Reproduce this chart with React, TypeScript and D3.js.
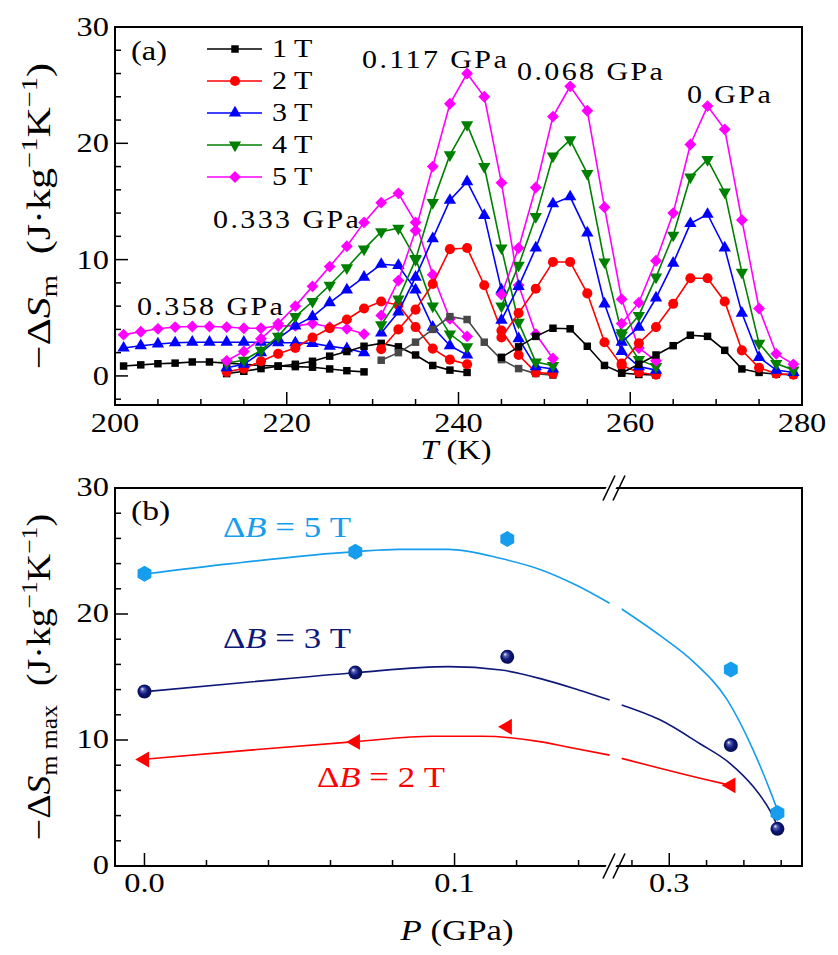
import React from 'react';
import * as d3 from 'd3';

// ---------- panel (a): -ΔSm vs T at five pressures ----------
const FIELDS = ['1 T', '2 T', '3 T', '4 T', '5 T'];
const FIELD_COLORS = ['#000000', '#ff0000', '#0000ff', '#008000', '#ff00ff'];

// 0.358 GPa (1, 3, 5 T)
const T_358 = [201, 203, 205, 207, 209, 211, 213, 215, 217, 219, 221, 223, 225, 227, 229];
const S_358_1 = [0.85, 0.95, 1.05, 1.1, 1.2, 1.2, 1.1, 1.0, 0.9, 0.85, 0.8, 0.75, 0.6, 0.45, 0.35];
const S_358_3 = [2.4, 2.6, 2.75, 2.85, 2.9, 2.9, 2.9, 2.9, 2.9, 2.85, 2.85, 2.8, 2.55, 2.35, 2.0];
const S_358_5 = [3.55, 3.8, 4.05, 4.2, 4.25, 4.25, 4.2, 4.1, 4.1, 4.3, 4.3, 4.5, 4.2, 4.05, 3.6];

// 0.333 GPa
const T_333 = [213, 215, 217, 219, 221, 223, 225, 227, 229, 231, 233, 235, 237, 239, 241];
const S_333_1 = [0.2, 0.4, 0.63, 0.83, 1.0, 1.26, 1.7, 2.1, 2.55, 2.8, 2.5, 1.8, 0.9, 0.5, 0.3];
const S_333_2 = [0.35, 0.63, 1.26, 1.9, 2.4, 3.3, 4.1, 4.85, 5.8, 6.4, 6.1, 4.2, 2.35, 1.4, 1.0];
const S_333_3 = [0.7, 1.0, 2.0, 3.2, 4.3, 5.1, 6.3, 7.4, 8.5, 9.6, 9.5, 7.4, 4.2, 2.6, 1.8];
const S_333_4 = [1.1, 1.35, 2.2, 3.4, 5.1, 6.4, 7.8, 9.3, 10.9, 12.4, 12.7, 10.1, 6.0, 3.6, 2.5];
const S_333_5 = [1.3, 2.1, 3.2, 4.5, 6.0, 7.7, 9.4, 11.15, 13.2, 14.9, 15.7, 13.2, 8.7, 4.9, 3.4];

// 0.117 GPa
const T_117 = [231, 233, 235, 237, 239, 241, 243, 245, 247, 249, 251];
const S_117_1 = [1.35, 2.0, 2.9, 4.0, 5.1, 4.85, 2.9, 1.4, 0.63, 0.2, 0.06];
const S_117_2 = [2.3, 4.0, 5.7, 7.9, 10.9, 11.0, 7.8, 3.9, 1.8, 0.3, 0.2];
const S_117_3 = [3.7, 5.5, 8.5, 11.8, 15.1, 16.7, 13.8, 7.4, 3.2, 0.8, 0.6];
const S_117_4 = [4.4, 6.6, 10.0, 14.9, 19.0, 21.6, 18.0, 11.0, 4.6, 1.2, 0.9];
const S_117_5 = [5.2, 8.2, 12.5, 18.0, 23.4, 26.0, 24.0, 16.6, 7.8, 3.6, 1.5];

// 0.068 GPa
const T_068 = [245, 247, 249, 251, 253, 255, 257, 259, 261, 263];
const S_068_1 = [1.6, 2.5, 3.4, 4.1, 4.05, 2.55, 0.9, 0.25, 0.12, 0.08];
const S_068_2 = [3.3, 5.4, 7.5, 9.8, 9.8, 7.1, 2.9, 0.9, 0.3, 0.1];
const S_068_3 = [4.8, 7.7, 11.0, 14.8, 15.4, 12.3, 6.2, 2.1, 0.8, 0.5];
const S_068_4 = [6.0, 9.5, 13.7, 18.9, 20.3, 17.4, 9.8, 3.7, 1.4, 0.8];
const S_068_5 = [7.0, 11.0, 16.2, 22.3, 24.9, 22.8, 14.5, 6.6, 2.4, 1.3];

// 0 GPa
const T_0 = [259, 261, 263, 265, 267, 269, 271, 273, 275, 277, 279];
const S_0_1 = [0.25, 1.0, 1.8, 2.6, 3.5, 3.4, 2.2, 0.6, 0.3, 0.15, 0.1];
const S_0_2 = [1.07, 2.8, 4.2, 6.2, 8.4, 8.4, 6.4, 2.2, 0.7, 0.2, 0.1];
const S_0_3 = [2.9, 4.2, 6.7, 9.7, 13.1, 13.9, 11.0, 5.4, 1.6, 0.5, 0.3];
const S_0_4 = [3.5, 5.2, 8.5, 12.1, 17.1, 18.6, 15.8, 8.9, 2.8, 1.07, 0.5];
const S_0_5 = [4.5, 6.3, 9.9, 14.0, 19.9, 23.2, 21.2, 13.4, 5.8, 1.9, 1.0];

const SETS = [
  { T: T_358, S: [S_358_1, null, S_358_3, null, S_358_5] },
  { T: T_333, S: [S_333_1, S_333_2, S_333_3, S_333_4, S_333_5] },
  { T: T_117, S: [S_117_1, S_117_2, S_117_3, S_117_4, S_117_5], gray: true },
  { T: T_068, S: [S_068_1, S_068_2, S_068_3, S_068_4, S_068_5] },
  { T: T_0, S: [S_0_1, S_0_2, S_0_3, S_0_4, S_0_5] },
];

const PRESSURE_NOTES = ['0.358 GPa', '0.333 GPa', '0.117 GPa', '0.068 GPa', '0 GPa'];
const NOTE_AT = [[137, 315], [213, 228], [362, 68], [517, 80], [687, 103]];

const T_TICKS = [200, 220, 240, 260, 280];

// ---------- panel (b): peak -ΔSm vs P ----------
const P_DATA = [0, 0.068, 0.117, 0.333, 0.358];
const PEAK_5T = [23.2, 24.95, 25.95, 15.6, 4.2];
const PEAK_3T = [13.85, 15.35, 16.6, 9.6, 2.95];
const PEAK_2T = [8.45, 9.85, 11.05, 6.4];

// fitted guide curves (left and right of the axis break)
const FIT5_P_L = [0, 0.028, 0.068, 0.082, 0.098, 0.115, 0.128, 0.140, 0.150];
const FIT5_V_L = [23.17, 24.0, 24.95, 25.13, 25.13, 24.4, 23.5, 22.2, 20.85];
const FIT5_P_R = [0.2745, 0.295, 0.313, 0.331, 0.345, 0.354, 0.3586];
const FIT5_V_R = [20.4, 18.3, 16.2, 13.2, 9.2, 6.0, 4.2];
const FIT3_P_L = [0, 0.034, 0.068, 0.098, 0.115, 0.128, 0.140, 0.150];
const FIT3_V_L = [13.83, 14.6, 15.34, 15.82, 15.55, 14.85, 13.97, 13.17];
const FIT3_P_R = [0.2745, 0.295, 0.3165, 0.3325, 0.345, 0.354, 0.3586];
const FIT3_V_R = [12.78, 11.6, 9.7, 8.15, 6.3, 4.4, 3.0];
const FIT2_P_L = [0, 0.034, 0.068, 0.093, 0.109, 0.1275, 0.136, 0.150];
const FIT2_V_L = [8.47, 9.2, 9.87, 10.3, 10.3, 9.87, 9.47, 8.8];
const FIT2_P_R = [0.2745, 0.295, 0.3165, 0.333];
const FIT2_V_R = [8.54, 7.75, 6.96, 6.4];

const P_TICKS_L = [0, 0.02, 0.04, 0.06, 0.08, 0.1, 0.12, 0.14];
const P_TICKS_R = [0.28, 0.3, 0.32, 0.34, 0.36];
const P_LABELS = [[0, '0.0'], [0.1, '0.1'], [0.3, '0.3']];

const C5 = '#169ded';
const C3 = '#0d1878';
const C2 = '#ff0000';

const FONT = '"Liberation Serif", "Times New Roman", serif';
const SX = 1.2;

function Txt({ x, y, size, anchor = 'start', fill = '#000', spacing = 0, children }: any) {
  return (
    <text transform={`translate(${x},${y}) scale(${SX},1)`} fontSize={size} textAnchor={anchor}
      fill={fill} fontFamily={FONT} letterSpacing={spacing}>
      {children}
    </text>
  );
}

function marker(i: number, x: number, y: number, color: string, key: any) {
  let d = '';
  let rot = 0;
  if (i === 0) d = d3.symbol(d3.symbolSquare, 56)()!;
  else if (i === 1) d = d3.symbol(d3.symbolCircle, 80)()!;
  else if (i === 2) d = d3.symbol(d3.symbolTriangle, 66)()!;
  else if (i === 3) { d = d3.symbol(d3.symbolTriangle, 66)()!; rot = 180; }
  else { d = d3.symbol(d3.symbolSquare, 70)()!; rot = 45; }
  return <path key={key} d={d} transform={`translate(${x},${y}) rotate(${rot})`} fill={color} />;
}

function hexPath(r: number) {
  const pts = d3.range(6).map(k => {
    const a = Math.PI / 2 + (k * Math.PI) / 3;
    return [r * Math.cos(a), r * Math.sin(a)];
  });
  return 'M' + pts.map(p => p.join(',')).join('L') + 'Z';
}

export default function App() {
  // panel (a) scales
  const xA = d3.scaleLinear().domain([200, 280]).range([115, 802]);
  const yA = d3.scaleLinear().domain([-2.5, 30]).range([405, 27]);
  const lineA = (T: number[], S: number[]) =>
    d3.line<number>().x((_, i) => xA(T[i])).y(v => yA(v))(S) || '';

  // panel (b) scales (broken x axis)
  const xBL = d3.scaleLinear().domain([-0.0095, 0.15]).range([115, 609.6]);
  const xBR = d3.scaleLinear().domain([0.2745, 0.371]).range([621.7, 801.7]);
  const xB = (p: number) => (p < 0.2 ? xBL(p) : xBR(p));
  const yB = d3.scaleLinear().domain([0, 30]).range([866, 488]);
  const fitLine = (P: number[], V: number[]) =>
    d3.line<number>().curve(d3.curveMonotoneX).x((_, i) => xB(P[i])).y(v => yB(v))(V) || '';

  const aTicksY = d3.range(-2, 31, 2);
  const aTicksX = d3.range(200, 281, 5);
  const bTicksY = d3.range(0, 31, 2);

  const legendRows = [49, 81, 113, 145, 177];

  return (
    <svg width={838} height={955} style={{ position: 'absolute', left: 0, top: 0, background: '#fff' }}>
      <defs>
        <radialGradient id="ball" cx="0.5" cy="0.5" r="0.55" fx="0.33" fy="0.3">
          <stop offset="0" stopColor="#ffffff" />
          <stop offset="0.22" stopColor="#5a63b8" />
          <stop offset="0.55" stopColor="#0d1878" />
          <stop offset="1" stopColor="#060b45" />
        </radialGradient>
      </defs>

      {/* ===== panel (a) ===== */}
      {aTicksX.map(t => (
        <line key={'ax' + t} x1={xA(t)} x2={xA(t)} y1={405} y2={405 - (t % 20 === 0 ? 13 : 6)} stroke="#000" strokeWidth={1.5} />
      ))}
      {aTicksY.map(t => (
        <line key={'ay' + t} x1={115} x2={115 + (t % 10 === 0 ? 13 : 6)} y1={yA(t)} y2={yA(t)} stroke="#000" strokeWidth={1.5} />
      ))}

      {SETS.map((set, si) =>
        set.S.map((S, fi) => {
          if (!S) return null;
          const c = fi === 0 && set.gray ? '#474747' : FIELD_COLORS[fi];
          return (
            <g key={`s${si}-${fi}`}>
              <path d={lineA(set.T, S)} fill="none" stroke={c} strokeWidth={1.6} />
              {S.map((v, i) => marker(fi, xA(set.T[i]), yA(v), c, i))}
            </g>
          );
        })
      )}

      <rect x={115} y={27} width={687} height={378} fill="none" stroke="#000" strokeWidth={2} />

      {T_TICKS.map(t => (
        <Txt key={'tl' + t} x={xA(t)} y={432} size={27} anchor="middle">{t}</Txt>
      ))}
      {[0, 10, 20, 30].map(v => (
        <Txt key={'yl' + v} x={109} y={yA(v) + 9} size={27} anchor="end">{v}</Txt>
      ))}

      <Txt x={131} y={60} size={27}>(a)</Txt>

      {FIELDS.map((f, i) => (
        <g key={'lg' + i}>
          <line x1={207} x2={262} y1={legendRows[i]} y2={legendRows[i]} stroke={FIELD_COLORS[i]} strokeWidth={1.6} />
          {marker(i, 235, legendRows[i], FIELD_COLORS[i], 'm')}
          <Txt x={272} y={legendRows[i] + 8} size={25}>{f}</Txt>
        </g>
      ))}

      {PRESSURE_NOTES.map((n, i) => (
        <Txt key={'pn' + i} x={NOTE_AT[i][0]} y={NOTE_AT[i][1]} size={25} spacing={2}>{n}</Txt>
      ))}

      <Txt x={456} y={459} size={27} anchor="middle">
        <tspan fontStyle="italic">T</tspan>{'\u00a0(K)'}
      </Txt>

      <text transform="translate(50,216) rotate(-90) scale(1.5,1.2)" fontSize={28} textAnchor="middle" fontFamily={FONT}>
        <tspan>−Δ</tspan><tspan fontStyle="italic">S</tspan>
        <tspan fontSize={19} dy={6}>m</tspan>
        <tspan dy={-6}>{'\u00a0\u00a0(J·kg'}</tspan>
        <tspan fontSize={19} dy={-11}>−1</tspan>
        <tspan dy={11}>K</tspan>
        <tspan fontSize={19} dy={-11}>−1</tspan>
        <tspan dy={11}>)</tspan>
      </text>

      {/* ===== panel (b) ===== */}
      {P_TICKS_L.map(p => (
        <line key={'bxl' + p} x1={xBL(p)} x2={xBL(p)} y1={866} y2={866 - (p === 0 || p === 0.1 ? 13 : 6)} stroke="#000" strokeWidth={1.5} />
      ))}
      {P_TICKS_R.map(p => (
        <line key={'bxr' + p} x1={xBR(p)} x2={xBR(p)} y1={866} y2={866 - (p === 0.3 ? 13 : 6)} stroke="#000" strokeWidth={1.5} />
      ))}
      {bTicksY.map(t => (
        <line key={'by' + t} x1={115} x2={115 + (t % 10 === 0 ? 13 : 6)} y1={yB(t)} y2={yB(t)} stroke="#000" strokeWidth={1.5} />
      ))}

      <path d={fitLine(FIT5_P_L, FIT5_V_L)} fill="none" stroke={C5} strokeWidth={1.6} />
      <path d={fitLine(FIT5_P_R, FIT5_V_R)} fill="none" stroke={C5} strokeWidth={1.6} />
      <path d={fitLine(FIT3_P_L, FIT3_V_L)} fill="none" stroke={C3} strokeWidth={1.6} />
      <path d={fitLine(FIT3_P_R, FIT3_V_R)} fill="none" stroke={C3} strokeWidth={1.6} />
      <path d={fitLine(FIT2_P_L, FIT2_V_L)} fill="none" stroke={C2} strokeWidth={1.6} />
      <path d={fitLine(FIT2_P_R, FIT2_V_R)} fill="none" stroke={C2} strokeWidth={1.6} />

      {PEAK_5T.map((v, i) => (
        <path key={'h' + i} d={hexPath(8)} transform={`translate(${xB(P_DATA[i])},${yB(v)})`} fill={C5} />
      ))}
      {PEAK_3T.map((v, i) => (
        <circle key={'b' + i} cx={xB(P_DATA[i])} cy={yB(v)} r={7} fill="url(#ball)" />
      ))}
      {PEAK_2T.map((v, i) => (
        <path key={'t' + i} d={d3.symbol(d3.symbolTriangle, 110)()!} transform={`translate(${xB(P_DATA[i])},${yB(v)}) rotate(-90)`} fill={C2} />
      ))}

      <rect x={115} y={488} width={687} height={378} fill="none" stroke="#000" strokeWidth={2} />

      {/* axis break marks */}
      {[488, 866].map(yy => (
        <g key={'br' + yy}>
          <polygon points={`${603},${yy + 5} ${609},${yy - 5} ${619},${yy - 5} ${613},${yy + 5}`} fill="#fff" />
          <line x1={603} y1={yy + 12.5} x2={615} y2={yy - 12.5} stroke="#000" strokeWidth={1.6} />
          <line x1={613} y1={yy + 12.5} x2={625} y2={yy - 12.5} stroke="#000" strokeWidth={1.6} />
        </g>
      ))}

      {P_LABELS.map(([p, s]) => (
        <Txt key={'pl' + s} x={xB(p as number)} y={892} size={27} anchor="middle">{s}</Txt>
      ))}
      {[0, 10, 20, 30].map(v => (
        <Txt key={'byl' + v} x={109} y={yB(v) + 8} size={27} anchor="end">{v}</Txt>
      ))}

      <Txt x={131} y={520} size={28}>(b)</Txt>

      <Txt x={223} y={537} size={29} fill={C5}>Δ<tspan fontStyle="italic">B</tspan>{'\u00a0=\u00a05\u00a0T'}</Txt>
      <Txt x={223} y={648} size={29} fill={C3}>Δ<tspan fontStyle="italic">B</tspan>{'\u00a0=\u00a03\u00a0T'}</Txt>
      <Txt x={317} y={787} size={29} fill={C2}>Δ<tspan fontStyle="italic">B</tspan>{'\u00a0=\u00a02\u00a0T'}</Txt>

      <Txt x={457} y={940} size={29} anchor="middle">
        <tspan fontStyle="italic">P</tspan>{'\u00a0(GPa)'}
      </Txt>

      <text transform="translate(50,677) rotate(-90) scale(1.35,1.2)" fontSize={28} textAnchor="middle" fontFamily={FONT}>
        <tspan>−Δ</tspan><tspan fontStyle="italic">S</tspan>
        <tspan fontSize={19} dy={6}>{'m\u00a0max'}</tspan>
        <tspan dy={-6}>{'\u00a0\u00a0(J·kg'}</tspan>
        <tspan fontSize={19} dy={-11}>−1</tspan>
        <tspan dy={11}>K</tspan>
        <tspan fontSize={19} dy={-11}>−1</tspan>
        <tspan dy={11}>)</tspan>
      </text>
    </svg>
  );
}
